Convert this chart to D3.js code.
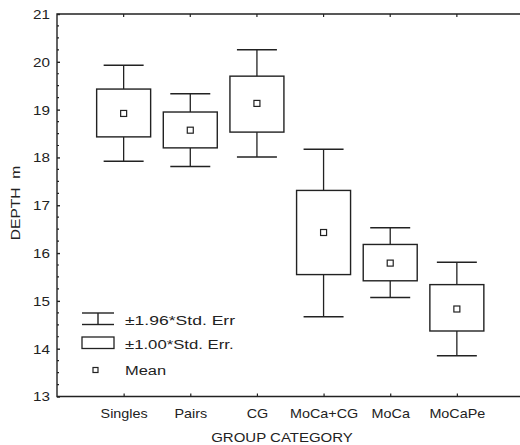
<!DOCTYPE html>
<html><head><meta charset="utf-8">
<script src="https://cdn.jsdelivr.net/npm/d3@7"></script>
<style>body{margin:0;background:#fff}svg{display:block}text{font-family:"Liberation Sans",Arial,sans-serif;fill:#222}</style>
</head><body><svg id="c" width="520" height="445"></svg>
<script>
const categories = ["Singles","Pairs","CG","MoCa+CG","MoCa","MoCaPe"];
const means      = [18.92, 18.57, 19.13, 16.43, 15.79, 14.83];
const seLow      = [18.43, 18.20, 18.53, 15.55, 15.42, 14.37];
const seHigh     = [19.43, 18.95, 19.70, 17.31, 16.18, 15.34];
const ciLow      = [17.92, 17.81, 18.01, 14.67, 15.07, 13.85];
const ciHigh     = [19.93, 19.33, 20.25, 18.17, 16.53, 15.81];
const yTicks     = [13,14,15,16,17,18,19,20,21];

const svg = d3.select("#c");
const L=57, R=523.5, T=14, B=396.5;
const x = d3.scaleLinear().domain([0,7]).range([L,R]);
const y = d3.scaleLinear().domain([13,21]).range([B,T]);
const ink="#222";

function stext(parent, tx, ty, str, size, sx, anchor){
  return parent.append("text").attr("transform",`translate(${tx},${ty}) scale(${sx},1)`)
    .attr("text-anchor",anchor||"start").attr("font-size",size).text(str);
}

// frame (top, left, bottom; right side lies beyond the picture)
svg.append("path").attr("d",`M${R},${T}H${L}V${B}H${R}`)
  .attr("fill","none").attr("stroke",ink).attr("stroke-width",1.4);

// y axis
const yAx = svg.append("g").attr("transform",`translate(${L},0)`)
  .call(d3.axisLeft(y).tickValues(yTicks).tickSize(-3).tickFormat(d3.format("d")));
yAx.select(".domain").remove();
yAx.selectAll("line").attr("stroke",ink).attr("stroke-width",1.4);
yAx.selectAll("text").attr("font-size",12.5).style("fill",ink)
  .attr("x",0).attr("dy","0.35em").attr("transform","translate(-7,0) scale(1.22,1)");
const minor = d3.range(13,21.001,0.25).filter(v=>Math.abs(v-Math.round(v))>0.01);
svg.append("g").selectAll("line").data(minor).join("line")
  .attr("x1",L).attr("x2",L+2).attr("y1",d=>y(d)).attr("y2",d=>y(d))
  .attr("stroke",ink).attr("stroke-width",1.2);

// x axis
const idx = categories.map((_,i)=>i+1);
const xAx = svg.append("g").attr("transform",`translate(0,${B})`)
  .call(d3.axisBottom(x).tickValues(idx).tickSize(-3).tickFormat(d=>categories[d-1]));
xAx.select(".domain").remove();
xAx.selectAll("line").attr("stroke",ink).attr("stroke-width",1.2);
xAx.selectAll("text").attr("font-size",12.5).style("fill",ink)
  .attr("y",0).attr("dy",0).attr("transform","translate(0,21.5) scale(1.15,1)");
svg.append("g").selectAll("line").data(idx).join("line")
  .attr("x1",d=>x(d)).attr("x2",d=>x(d)).attr("y1",T).attr("y2",T+3)
  .attr("stroke",ink).attr("stroke-width",1.2);

// boxes
const bw = x(0.81)-x(0), cw = x(0.6)-x(0), ms=6;
const g = svg.append("g");
categories.forEach((c,i)=>{
  const cx = x(i+1);
  g.append("line").attr("x1",cx).attr("x2",cx).attr("y1",y(ciHigh[i])).attr("y2",y(seHigh[i])).attr("stroke",ink).attr("stroke-width",1.3);
  g.append("line").attr("x1",cx).attr("x2",cx).attr("y1",y(seLow[i])).attr("y2",y(ciLow[i])).attr("stroke",ink).attr("stroke-width",1.3);
  g.append("line").attr("x1",cx-cw/2).attr("x2",cx+cw/2).attr("y1",y(ciHigh[i])).attr("y2",y(ciHigh[i])).attr("stroke",ink).attr("stroke-width",1.5);
  g.append("line").attr("x1",cx-cw/2).attr("x2",cx+cw/2).attr("y1",y(ciLow[i])).attr("y2",y(ciLow[i])).attr("stroke",ink).attr("stroke-width",1.5);
  g.append("rect").attr("x",cx-bw/2).attr("y",y(seHigh[i])).attr("width",bw).attr("height",y(seLow[i])-y(seHigh[i]))
    .attr("fill","#fff").attr("stroke",ink).attr("stroke-width",1.4);
  g.append("rect").attr("x",cx-ms/2).attr("y",y(means[i])-ms/2).attr("width",ms).attr("height",ms)
    .attr("fill","#fff").attr("stroke",ink).attr("stroke-width",1.2);
});

// legend
const lg = svg.append("g");
lg.append("line").attr("x1",82).attr("x2",114).attr("y1",313).attr("y2",313).attr("stroke",ink).attr("stroke-width",1.4);
lg.append("line").attr("x1",82).attr("x2",114).attr("y1",324.5).attr("y2",324.5).attr("stroke",ink).attr("stroke-width",1.4);
lg.append("line").attr("x1",98).attr("x2",98).attr("y1",313).attr("y2",324.5).attr("stroke",ink).attr("stroke-width",1.4);
lg.append("rect").attr("x",82).attr("y",337).attr("width",32).attr("height",11.5).attr("fill","#fff").attr("stroke",ink).attr("stroke-width",1.3);
lg.append("rect").attr("x",93).attr("y",367.5).attr("width",5).attr("height",5).attr("fill","#fff").attr("stroke",ink).attr("stroke-width",1.2);
stext(lg,125,325,"±1.96*Std. Err",13.5,1.3);
stext(lg,125,349,"±1.00*Std. Err.",13.5,1.24);
stext(lg,125,375,"Mean",13.5,1.22);

// axis titles
stext(svg,282,442,"GROUP CATEGORY",12.5,1.2,"middle");
svg.append("text").attr("transform","translate(20,203) rotate(-90) scale(1.3,1)").attr("text-anchor","middle")
  .attr("font-size",12).attr("xml:space","preserve").text("DEPTH  m");
</script></body></html>
